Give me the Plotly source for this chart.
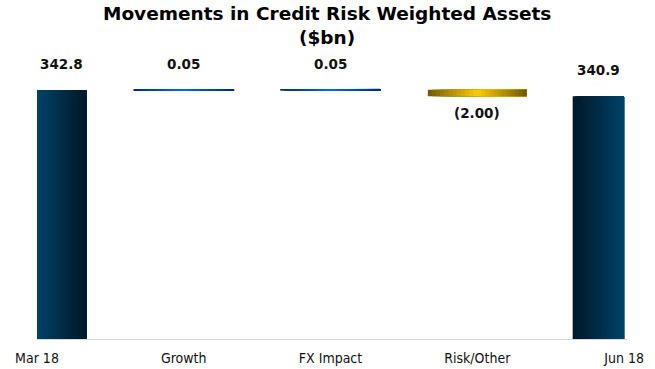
import plotly.graph_objects as go

# ---- data ----
categories = ["Mar 18", "Growth", "FX Impact", "Risk/Other", "Jun 18"]
measures = ["absolute", "relative", "relative", "relative", "total"]
values = [342.8, 0.05, 0.05, -2.00, 340.9]
value_labels = ["342.8", "0.05", "0.05", "(2.00)", "340.9"]
title_lines = ["Movements in Credit Risk Weighted Assets", "($bn)"]

# ---- layout / style ----
bar_offsets = [0.0, -0.337, -0.337, -0.337, -0.35]
bar_widths = [0.335, 0.674, 0.674, 0.674, 0.35]
y_range = [265.0, 352.2]
N_SLICES = 24

def lerp(c1, c2, t):
    return tuple(round(a + (b - a) * t) for a, b in zip(c1, c2))

NAVY_L, NAVY_D = (0, 66, 104), (0, 24, 40)
BLUE_E, BLUE_C = (0, 45, 120), (0, 104, 255)
GOLD_E, GOLD_C = (112, 88, 0), (255, 204, 0)

def grad(i, t):
    if i == 0:
        c = lerp(NAVY_L, NAVY_D, t)
    elif i == 4:
        c = lerp(NAVY_D, NAVY_L, t)
    elif values[i] < 0:
        c = lerp(GOLD_E, GOLD_C, 1 - abs(2 * t - 1))
    else:
        c = lerp(BLUE_E, BLUE_C, 1 - abs(2 * t - 1))
    return "rgb(%d,%d,%d)" % c

# compute bases and heights from the data (waterfall logic)
bases, heights, tops, bottoms = [], [], [], []
running = 0.0
for m, v in zip(measures, values):
    if m == "absolute":
        b, h = 0.0, v
        running = v
    elif m == "relative":
        b, h = running, v
        running += v
    else:
        b, h = 0.0, running
    bases.append(b)
    heights.append(h)
    tops.append(max(b, b + h))
    bottoms.append(min(b, b + h))

fig = go.Figure()
# gradient: each slice starts further right and runs to the bar's right edge,
# drawn in order so later slices cover earlier ones (no seams)
for j in range(N_SLICES):
    t = (j + 0.5) / N_SLICES
    cols = [grad(i, t) for i in range(len(categories))]
    fig.add_trace(go.Bar(
        x=categories,
        y=heights,
        base=bases,
        offset=[o + w * j / N_SLICES for o, w in zip(bar_offsets, bar_widths)],
        width=[w * (N_SLICES - j) / N_SLICES for w in bar_widths],
        marker=dict(color=cols,
                    line=dict(width=[0, 1.6, 1.6, 0, 0], color=cols)),
        showlegend=False,
        hoverinfo="skip",
    ))

annotations = []
for i, cat in enumerate(categories):
    if values[i] < 0 and measures[i] == "relative":
        y, shift = bottoms[i], -17
    else:
        y, shift = tops[i], 26
    annotations.append(dict(
        x=i + bar_offsets[i] + bar_widths[i] / 2, y=y, xref="x", yref="y",
        yshift=shift,
        text="<b>%s</b>" % value_labels[i], showarrow=False,
        font=dict(family="DejaVu Sans", size=13.5, color="#111111"),
        xanchor="center", yanchor="middle",
    ))

for k, (line, ypos) in enumerate(zip(title_lines, [1.165, 1.079])):
    annotations.append(dict(
        x=0.5, xref="paper", y=ypos, yref="paper", xshift=-6,
        text="<b>%s</b>" % line, showarrow=False,
        font=dict(family="DejaVu Sans", size=18.5, color="#000000"),
        xanchor="center", yanchor="middle",
    ))

fig.update_layout(
    width=655, height=369,
    margin=dict(l=37, r=27, t=60, b=30, autoexpand=False),
    paper_bgcolor="white", plot_bgcolor="white",
    barmode="overlay",
    annotations=annotations,
    xaxis=dict(
        type="category", range=[0, 4.027], automargin=False,
        showline=True, linecolor="#d9d9d9", linewidth=1,
        showgrid=False, ticks="", zeroline=False,
        ticklabelstandoff=6,
        tickfont=dict(family="DejaVu Sans Condensed", size=14, color="#111111"),
    ),
    yaxis=dict(range=y_range, visible=False, showgrid=False, zeroline=False,
               automargin=False),
)

# remove the default 8px page margin so the figure sits at the window's corner
fig.write_html(
    "out.html",
    config={"displayModeBar": False, "staticPlot": True},
    post_script="document.body.style.margin='0';document.body.style.overflow='hidden';",
)
